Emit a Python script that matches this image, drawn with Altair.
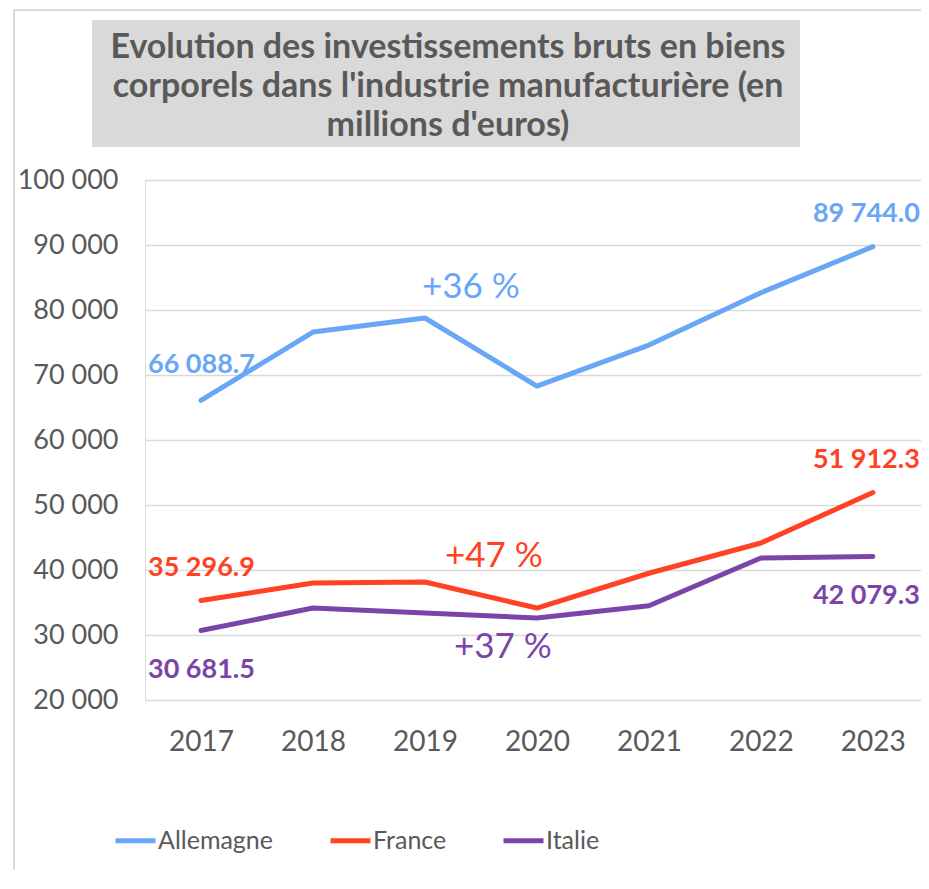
import altair as alt
import pandas as pd

years = [2017, 2018, 2019, 2020, 2021, 2022, 2023]
allemagne = [66088.7, 76600, 78770, 68300, 74600, 82650, 89744.0]
france = [35296.9, 38000, 38150, 34150, 39500, 44150, 51912.3]
italie = [30681.5, 34150, 33400, 32600, 34500, 41850, 42079.3]
series_names = ["Allemagne", "France", "Italie"]
series_colors = ["#6aa6f6", "#ff4124", "#7b44a8"]
growth_labels = ["+36 %", "+47 %", "+37 %"]
title_lines = [
    "Evolution des investissements bruts en biens",
    "corporels dans l'industrie manufacturière (en",
    "millions d'euros)",
]

FONT = "Lato"
GREY = "#595959"

rows = []
for name, vals in zip(series_names, [allemagne, france, italie]):
    for y, v in zip(years, vals):
        rows.append({"annee": y, "valeur": v, "pays": name,
                     "label": f"{v:,.1f}".replace(",", " ")})
df = pd.DataFrame(rows)

color_scale = alt.Scale(domain=series_names, range=series_colors)
x_enc = alt.X("annee:Q", scale=alt.Scale(domain=[2016.5, 2023.43], nice=False, zero=False),
              axis=alt.Axis(values=years, format="d", grid=False, domain=False, ticks=False,
                            labelFontSize=28, labelColor=GREY, labelFont=FONT,
                            labelPadding=28, title=None))
y_enc = alt.Y("valeur:Q", scale=alt.Scale(domain=[20000, 100000], nice=False, zero=False),
              axis=alt.Axis(values=list(range(20000, 100001, 10000)),
                            labelExpr="replace(format(datum.value, ',d'), ',', ' ')",
                            grid=True, gridColor="#d9d9d9", gridWidth=1.5,
                            domain=False, ticks=False, labelFontSize=27,
                            labelColor=GREY, labelFont=FONT, labelPadding=27, title=None))

base = alt.Chart(df)

# decorative frame and title box
deco = alt.Data(values=[{"k": 1}])
frame_left = alt.Chart(deco).mark_rule(color="#d9d9d9", strokeWidth=2).encode(
    x=alt.value(-131), y=alt.value(-170), y2=alt.value(700))
frame_top = alt.Chart(deco).mark_rule(color="#d9d9d9", strokeWidth=2).encode(
    x=alt.value(-131), x2=alt.value(776), y=alt.value(-170))
title_box = alt.Chart(deco).mark_rect(color="#d9d9d9").encode(
    x=alt.value(-53), x2=alt.value(655), y=alt.value(-160), y2=alt.value(-33))

lines = base.mark_line(strokeWidth=5, strokeCap="round", strokeJoin="round").encode(
    x=x_enc, y=y_enc,
    color=alt.Color("pays:N", scale=color_scale,
                    legend=alt.Legend(orient="none", legendX=-32, legendY=638,
                                      direction="horizontal", title=None,
                                      symbolType="stroke", symbolSize=1600,
                                      symbolStrokeWidth=5, labelFontSize=25,
                                      labelFont=FONT, labelColor=GREY,
                                      labelOffset=0, columnPadding=46)),
)

layers = [frame_left, frame_top, title_box, lines]

# value labels at first and last year
start_dy = [-35, -33, 39]
end_dy = [-33, -33, 40]
for name, col, sdy, edy in zip(series_names, series_colors, start_dy, end_dy):
    layers.append(base.transform_filter(
        (alt.datum.pays == name) & (alt.datum.annee == years[0])
    ).mark_text(align="left", dx=-53, dy=sdy, fontSize=27, fontWeight="bold",
                font=FONT, color=col).encode(x="annee:Q", y="valeur:Q", text="label:N"))
    layers.append(base.transform_filter(
        (alt.datum.pays == name) & (alt.datum.annee == years[-1])
    ).mark_text(align="right", dx=47, dy=edy, fontSize=27, fontWeight="bold",
                font=FONT, color=col).encode(x="annee:Q", y="valeur:Q", text="label:N"))

# growth annotations anchored on data points
anchors = [(series_names[0], 2019, 46, -31), (series_names[1], 2019, 69, -26),
           (series_names[2], 2020, -34, 29)]
for (name, yr, dx, dy), txt, col in zip(anchors, growth_labels, series_colors):
    layers.append(base.transform_filter(
        (alt.datum.pays == name) & (alt.datum.annee == yr)
    ).mark_text(align="center", baseline="middle", dx=dx, dy=dy, fontSize=35,
                font=FONT, color=col, text=txt).encode(x="annee:Q", y="valeur:Q"))

chart = alt.layer(*layers).properties(
    width=776, height=520,
    title=alt.TitleParams(text=title_lines, fontSize=34, fontWeight="bold", color=GREY,
                          font=FONT, anchor="middle", dx=-85, lineHeight=39, offset=-134),
    autosize=alt.AutoSizeParams(type="none"),
    padding={"left": 137, "top": 172, "right": 0, "bottom": 170},
).configure_view(stroke=None).configure(background="white")

chart.save("out.html", embed_options={"renderer": "svg", "actions": False})
